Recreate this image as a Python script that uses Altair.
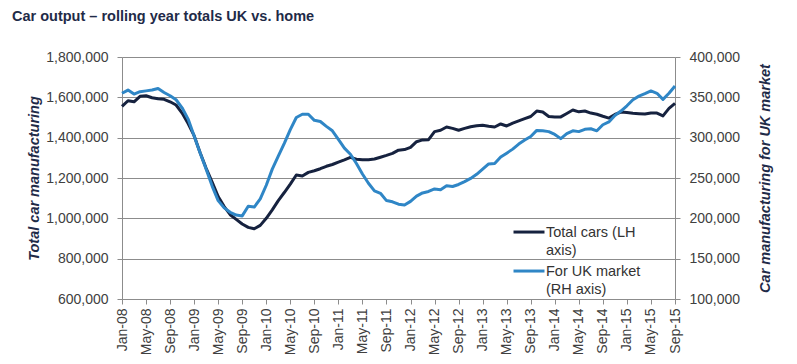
import altair as alt
import pandas as pd

month_names = ["Jan", "Feb", "Mar", "Apr", "May", "Jun", "Jul", "Aug", "Sep", "Oct", "Nov", "Dec"]
months = [f"{m}-{y:02d}" for y in range(8, 16) for m in month_names][:93]

total_cars = [
    1555000, 1583000, 1578000, 1605000, 1608000, 1598000, 1593000, 1590000, 1578000, 1562000,
    1522000, 1470000, 1410000, 1325000, 1248000, 1180000, 1108000, 1058000, 1018000, 995000,
    972000, 955000, 948000, 965000, 1000000, 1042000, 1088000, 1128000, 1170000, 1215000,
    1210000, 1228000, 1236000, 1246000, 1258000, 1267000, 1279000, 1290000, 1302000, 1293000,
    1290000, 1291000, 1294000, 1303000, 1312000, 1322000, 1338000, 1341000, 1352000, 1380000,
    1389000, 1390000, 1430000, 1437000, 1453000, 1446000, 1437000, 1446000, 1454000, 1459000,
    1462000, 1457000, 1453000, 1468000, 1458000, 1472000, 1483000, 1494000, 1505000, 1532000,
    1527000, 1505000, 1503000, 1503000, 1520000, 1537000, 1528000, 1532000, 1522000, 1516000,
    1506000, 1497000, 1515000, 1527000, 1525000, 1521000, 1519000, 1517000, 1522000, 1522000,
    1508000, 1545000, 1570000,
]

uk_market = [
    355000, 359000, 354000, 357000, 358000, 359000, 361000, 356000, 352000, 347000,
    337000, 323000, 302000, 281000, 261000, 240000, 222000, 213000, 207500, 204000,
    203000, 215000, 214000, 224000, 241000, 261000, 277000, 293000, 310000, 325000,
    329000, 329000, 321500, 320000, 314000, 308500, 298000, 287000, 279500, 268000,
    255000, 243500, 234000, 231000, 222000, 220500, 217500, 216500, 221000, 227500,
    231500, 233300, 236500, 235500, 240300, 239500, 242000, 245500, 249500, 254500,
    261000, 267500, 268000, 276000, 280800, 285800, 292000, 297000, 301500, 309000,
    308500, 307500, 304000, 298800, 305000, 308500, 307500, 310300, 311000, 308500,
    316000, 319500, 327500, 333000, 339500, 347000, 351500, 354500, 357900, 355000,
    347500, 355000, 364000,
]

series_names = ["Total cars (LH axis)", "For UK market (RH axis)"]
series_colors = ["#16223f", "#2f86c6"]
left_ticks = [600000, 800000, 1000000, 1200000, 1400000, 1600000, 1800000]
right_ticks = [100000, 150000, 200000, 250000, 300000, 350000, 400000]

df_total = pd.DataFrame({"month": months, "value": total_cars, "series": series_names[0]})
df_uk = pd.DataFrame({"month": months, "value": uk_market, "series": series_names[1]})

grey = "#8c8c8c"
label_col = "#404040"
title_col = "#1f2b48"
FONT = "Liberation Sans"

x_enc = alt.X(
    "month:O",
    sort=months,
    scale=alt.Scale(type="point", padding=0),
    axis=alt.Axis(
        values=months[::4], labelAngle=270, title=None, tickSize=5, labelPadding=4,
        labelFontSize=14, labelColor=label_col, domainColor=grey, tickColor=grey,
        labelFont=FONT, grid=False,
    ),
)

color_enc = alt.Color(
    "series:N",
    scale=alt.Scale(domain=series_names, range=series_colors),
    legend=alt.Legend(
        orient="none", legendX=390, legendY=163, title=None,
        symbolType="M-1,-0.32H1", symbolSize=961, symbolStrokeWidth=3,
        labelFontSize=14.5, labelFont=FONT, labelColor="#333333",
        labelBaseline="alphabetic", labelOffset=0, padding=0, rowPadding=1,
        labelLimit=300,
        labelExpr="datum.label == 'Total cars (LH axis)' ? ['Total cars (LH', 'axis)'] : ['For UK market', '(RH axis)']",
    ),
)

left = alt.Chart(df_total).mark_line(strokeWidth=3, strokeJoin="round").encode(
    x=x_enc,
    y=alt.Y(
        "value:Q",
        scale=alt.Scale(domain=[600000, 1800000], nice=False, zero=False),
        axis=alt.Axis(
            orient="left", title="Total car manufacturing", values=left_ticks, format=",d",
            grid=True, gridColor=grey, domainColor=grey, tickColor=grey, tickSize=5,
            labelPadding=9, labelFontSize=14, labelColor=label_col, labelFont=FONT,
            titleFont=FONT, titleFontSize=14.5, titleFontWeight="bold", titleFontStyle="italic",
            titleColor=title_col, titlePadding=4,
        ),
    ),
    color=color_enc,
)

right = alt.Chart(df_uk).mark_line(strokeWidth=3, strokeJoin="round").encode(
    x=x_enc,
    y=alt.Y(
        "value:Q",
        scale=alt.Scale(domain=[100000, 400000], nice=False, zero=False),
        axis=alt.Axis(
            orient="right", title="Car manufacturing for UK market", values=right_ticks, format=",d",
            grid=False, domainColor=grey, tickColor=grey, tickSize=5,
            labelPadding=9, labelFontSize=14, labelColor=label_col, labelFont=FONT,
            titleFont=FONT, titleFontSize=14.5, titleFontWeight="bold", titleFontStyle="italic",
            titleColor=title_col, titlePadding=33, titleAngle=270,
        ),
    ),
    color=color_enc,
)

chart = (
    alt.layer(left, right)
    .resolve_scale(y="independent")
    .properties(
        width=553,
        height=242,
        autosize=alt.AutoSizeParams(type="none"),
        padding={"left": 114, "top": 49, "right": 114, "bottom": 57},
        title=alt.TitleParams(
            "Car output \u2013 rolling year totals UK vs. home",
            anchor="start", frame="group", dx=-110, offset=26,
            font=FONT, fontSize=14.5, fontWeight="bold", color=title_col,
        ),
    )
    .configure_view(stroke=None)
    .configure(background="white", style={"guide-label": {"lineHeight": 18}})
)

chart.save("out.html", embed_options={"renderer": "svg", "actions": False})
